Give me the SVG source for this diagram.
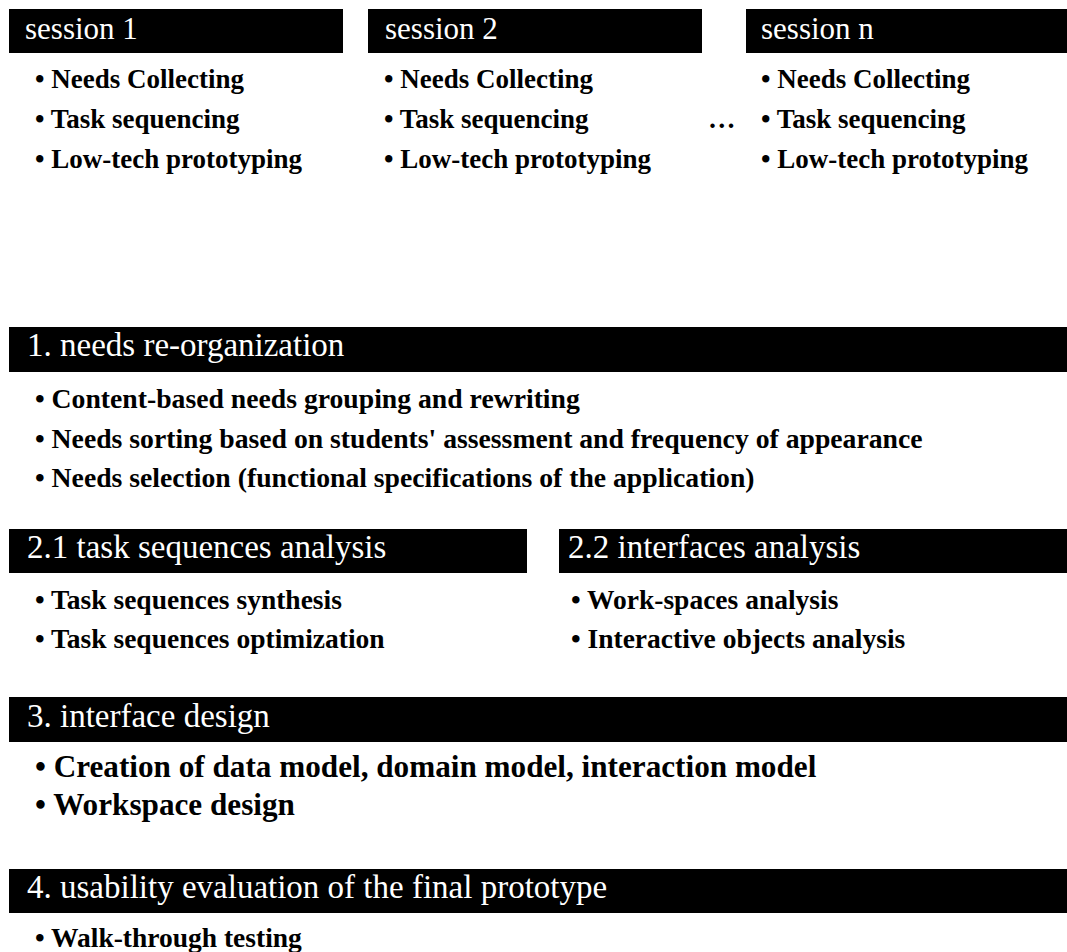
<svg xmlns="http://www.w3.org/2000/svg" width="1067" height="952" viewBox="0 0 1067 952">
<style>
.bar{fill:#000}
.hd{font-family:"Liberation Serif","Times New Roman",serif;fill:#fff}
.hs{font-size:31px}
.hl{font-size:33px}
.it{font-family:"Liberation Serif","Times New Roman",serif;font-weight:bold;fill:#000;font-size:27.5px}
.ss{font-size:27px}
.s1{font-size:27.7px}
.big{font-size:31.2px}
</style>
<rect width="1067" height="952" fill="#fff"/>
<g id="session1">
<rect class="bar" x="9" y="9" width="334" height="44"/>
<text class="hd hs" x="25" y="39">session 1</text>
<text class="it ss" x="35" y="88">• Needs Collecting</text>
<text class="it ss" x="35" y="128">• Task sequencing</text>
<text class="it ss" x="35" y="168">• Low-tech prototyping</text>
</g>
<g id="session2">
<rect class="bar" x="368" y="9" width="334" height="44"/>
<text class="hd hs" x="385" y="39">session 2</text>
<text class="it ss" x="384" y="88">• Needs Collecting</text>
<text class="it ss" x="384" y="128">• Task sequencing</text>
<text class="it ss" x="384" y="168">• Low-tech prototyping</text>
</g>
<g id="ellipsis">
<text class="it" x="708" y="128">…</text>
</g>
<g id="sessionN">
<rect class="bar" x="746" y="9" width="321" height="44"/>
<text class="hd hs" x="761" y="39">session n</text>
<text class="it ss" x="761" y="88">• Needs Collecting</text>
<text class="it ss" x="761" y="128">• Task sequencing</text>
<text class="it ss" x="761" y="168">• Low-tech prototyping</text>
</g>
<g id="needs-reorganization">
<rect class="bar" x="9" y="327" width="1058" height="45"/>
<text class="hd hl" x="27" y="356">1. needs re-organization</text>
<text class="it s1" x="35" y="408">• Content-based needs grouping and rewriting</text>
<text class="it s1" x="35" y="448">• Needs sorting based on students' assessment and frequency of appearance</text>
<text class="it s1" x="35" y="487">• Needs selection (functional specifications of the application)</text>
</g>
<g id="task-sequences-analysis">
<rect class="bar" x="9" y="529" width="518" height="44"/>
<text class="hd hl" x="27" y="558">2.1 task sequences analysis</text>
<text class="it" x="35" y="609">• Task sequences synthesis</text>
<text class="it" x="35" y="648">• Task sequences optimization</text>
</g>
<g id="interfaces-analysis">
<rect class="bar" x="559" y="529" width="508" height="44"/>
<text class="hd hl" x="568" y="558">2.2 interfaces analysis</text>
<text class="it" x="571" y="609">• Work-spaces analysis</text>
<text class="it" x="571" y="648">• Interactive objects analysis</text>
</g>
<g id="interface-design">
<rect class="bar" x="9" y="697" width="1058" height="45"/>
<text class="hd hl" x="27" y="727">3. interface design</text>
<text class="it big" x="35" y="777">• Creation of data model, domain model, interaction model</text>
<text class="it big" x="35" y="815">• Workspace design</text>
</g>
<g id="usability-evaluation">
<rect class="bar" x="9" y="869" width="1058" height="44"/>
<text class="hd hl" x="27" y="898">4. usability evaluation of the final prototype</text>
<text class="it" x="35" y="947">• Walk-through testing</text>
</g>
<g id="connectors"/>
</svg>
